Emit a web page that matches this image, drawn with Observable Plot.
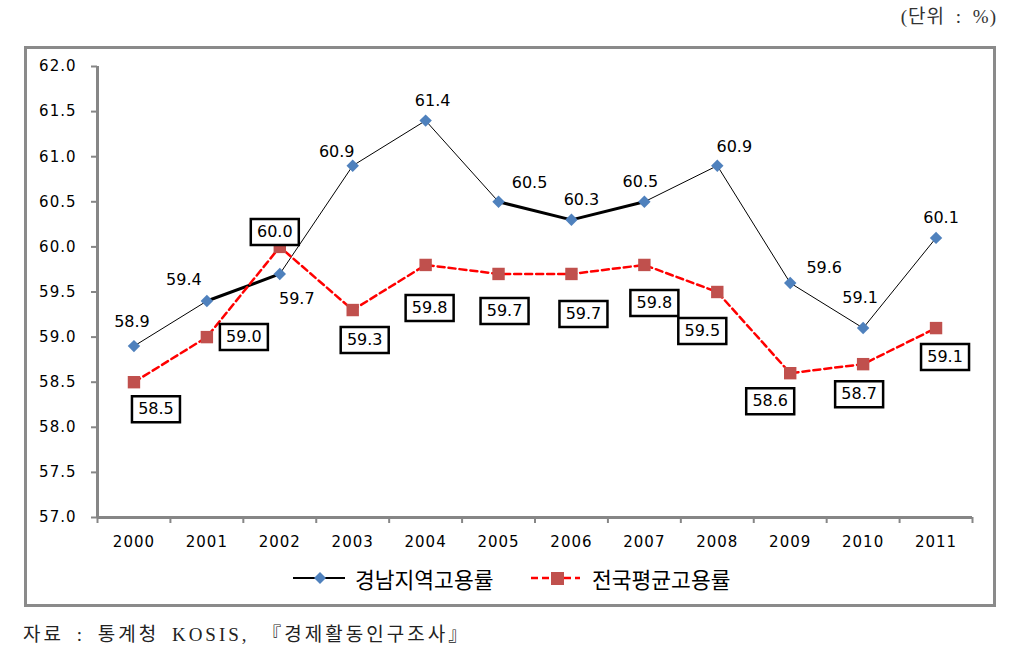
<!DOCTYPE html>
<html>
<head>
<meta charset="utf-8">
<script src="https://cdn.jsdelivr.net/npm/d3@7"></script>
<script src="https://cdn.jsdelivr.net/npm/@observablehq/plot@0.6"></script>
<style>
  html, body { margin: 0; padding: 0; background: #fff; }
  #page { position: relative; width: 1024px; height: 669px; overflow: hidden; background: #fff; }
  #chart { position: absolute; left: 0; top: 0; }
  #frame { position: absolute; left: 24px; top: 46px; width: 972px; height: 561px; border: 3px solid #8a8a8a; box-sizing: border-box; pointer-events: none; }
  #unit { position: absolute; right: 27px; top: 5px; font-size: 19px; line-height: 24px; font-family: "Liberation Serif", "Noto Sans CJK KR", serif; letter-spacing: 1px; word-spacing: 5px; color: #333; white-space: nowrap; }
  #source { position: absolute; left: 23px; top: 623px; font-size: 19px; line-height: 24px; font-family: "Liberation Serif", "Noto Sans CJK KR", serif; letter-spacing: 3px; word-spacing: 5px; color: #222; white-space: nowrap; }
  .legend-item { position: absolute; top: 566px; height: 26px; display: flex; align-items: center; font-family: "Noto Sans CJK KR", sans-serif; font-size: 21.5px; line-height: 26px; color: #000; white-space: nowrap; }
  .legend-item svg { display: block; }
  #chart g[aria-label="y-axis tick label"] text,
  #chart g[aria-label="x-axis tick label"] text { letter-spacing: 1px; }
</style>
</head>
<body>
<div id="page">
  <div id="unit">(단위 : %)</div>
  <div id="chart"></div>
  <div id="frame"></div>
  <div class="legend-item" id="leg1" style="left:293px;">
    <svg width="52" height="26"><line x1="0" x2="52" y1="12" y2="12" stroke="#000" stroke-width="2"/><path d="M27,6 L33,12 L27,18 L21,12 Z" fill="#4F81BD"/></svg>
    <span style="margin-left:10px;">경남지역고용률</span>
  </div>
  <div class="legend-item" id="leg2" style="left:531px;">
    <svg width="49" height="26"><line x1="0" x2="49" y1="12" y2="12" stroke="#FF0000" stroke-width="2.5" stroke-dasharray="7,4"/><rect x="20" y="6" width="13" height="13" fill="#C0504D"/></svg>
    <span style="margin-left:12px;">전국평균고용률</span>
  </div>
  <div id="source">자료 : 통계청 KOSIS, 『경제활동인구조사』</div>
</div>
<script>
// ---- data ----
const years = [2000, 2001, 2002, 2003, 2004, 2005, 2006, 2007, 2008, 2009, 2010, 2011];
const gyeongnam = [58.9, 59.4, 59.7, 60.9, 61.4, 60.5, 60.3, 60.5, 60.9, 59.6, 59.1, 60.1];
const national = [58.5, 59.0, 60.0, 59.3, 59.8, 59.7, 59.7, 59.8, 59.5, 58.6, 58.7, 59.1];
const yTicks = [57.0, 57.5, 58.0, 58.5, 59.0, 59.5, 60.0, 60.5, 61.0, 61.5, 62.0];
const seriesNames = ["경남지역고용률", "전국평균고용률"];

// ---- label placement (pixel offsets from each point) ----
const gnLabelOffsets = [[-2,-24],[-23,-21],[17,25],[-16,-14],[7,-20],[31,-19],[10,-20],[-4,-20],[17,-19],[34,-15],[-3,-30],[5,-20]];
const natLabelOffsets = [[22,27],[37,0],[-5,-15],[12,30],[4,43],[6,37],[12,40],[10,38],[-15,39],[-20,28],[-4,30],[9,29]];

const rows = years.map((year, i) => ({year, gn: gyeongnam[i], nat: national[i]}));
const bandEdges = years.map(y => y - 0.5).concat([years[years.length - 1] + 0.5]);

const axisGray = "#868686";
const blue = "#4F81BD";
const red = "#C0504D";

const boxSymbol = {
  draw(context) {
    context.moveTo(-24, -13);
    context.lineTo(24, -13);
    context.lineTo(24, 13);
    context.lineTo(-24, 13);
    context.closePath();
  }
};

const thickRows = rows.filter(d => (d.year >= 2001 && d.year <= 2002) || (d.year >= 2005 && d.year <= 2007));

const marks = [
  Plot.axisY({ticks: yTicks, tickFormat: d3.format(".1f"), tickSize: 6, tickPadding: 15, stroke: axisGray, strokeWidth: 2, fill: "#000", fontSize: 15, label: null}),
  Plot.axisX({ticks: bandEdges, tickFormat: () => "", tickSize: 6, stroke: axisGray, strokeWidth: 2, label: null}),
  Plot.axisX({ticks: years, tickFormat: d => String(d), tickSize: 0, tickPadding: 19, fill: "#000", fontSize: 15, label: null}),
  Plot.ruleX([bandEdges[0]], {stroke: axisGray, strokeWidth: 3}),
  Plot.ruleY([yTicks[0]], {stroke: axisGray, strokeWidth: 3}),
  Plot.line(rows, {x: "year", y: "gn", stroke: "#000", strokeWidth: 1}),
  Plot.line(thickRows, {x: "year", y: "gn", z: d => d.year <= 2002 ? "a" : "b", stroke: "#000", strokeWidth: 3}),
  Plot.line(rows, {x: "year", y: "nat", stroke: "#FF0000", strokeWidth: 2.5, strokeDasharray: "7,4"}),
  Plot.dot(rows, {x: "year", y: "gn", symbol: "diamond2", r: 5.6, fill: blue}),
  Plot.dot(rows, {x: "year", y: "nat", symbol: "square", r: 7, fill: red}),
];

rows.forEach((d, i) => {
  const [gdx, gdy] = gnLabelOffsets[i];
  marks.push(Plot.text([d], {x: "year", y: "gn", text: r => r.gn.toFixed(1), dx: gdx, dy: gdy, fontSize: 16, fill: "#000"}));
  const [ndx, ndy] = natLabelOffsets[i];
  marks.push(Plot.dot([d], {x: "year", y: "nat", symbol: boxSymbol, r: 10, fill: "#fff", stroke: "#000", strokeWidth: 2.5, dx: ndx, dy: ndy}));
  marks.push(Plot.text([d], {x: "year", y: "nat", text: r => r.nat.toFixed(1), dx: ndx, dy: ndy, fontSize: 16, fill: "#000"}));
});

const chart = Plot.plot({
  width: 1024,
  height: 669,
  marginLeft: 97,
  marginRight: 52,
  marginTop: 66,
  marginBottom: 152,
  style: {background: "transparent", fontFamily: "'DejaVu Sans', Verdana, sans-serif", fontSize: "16px", color: "#000"},
  x: {type: "linear", domain: [bandEdges[0], bandEdges[bandEdges.length - 1]]},
  y: {domain: [yTicks[0], yTicks[yTicks.length - 1]]},
  marks
});
document.getElementById("chart").append(chart);
</script>
</body>
</html>
